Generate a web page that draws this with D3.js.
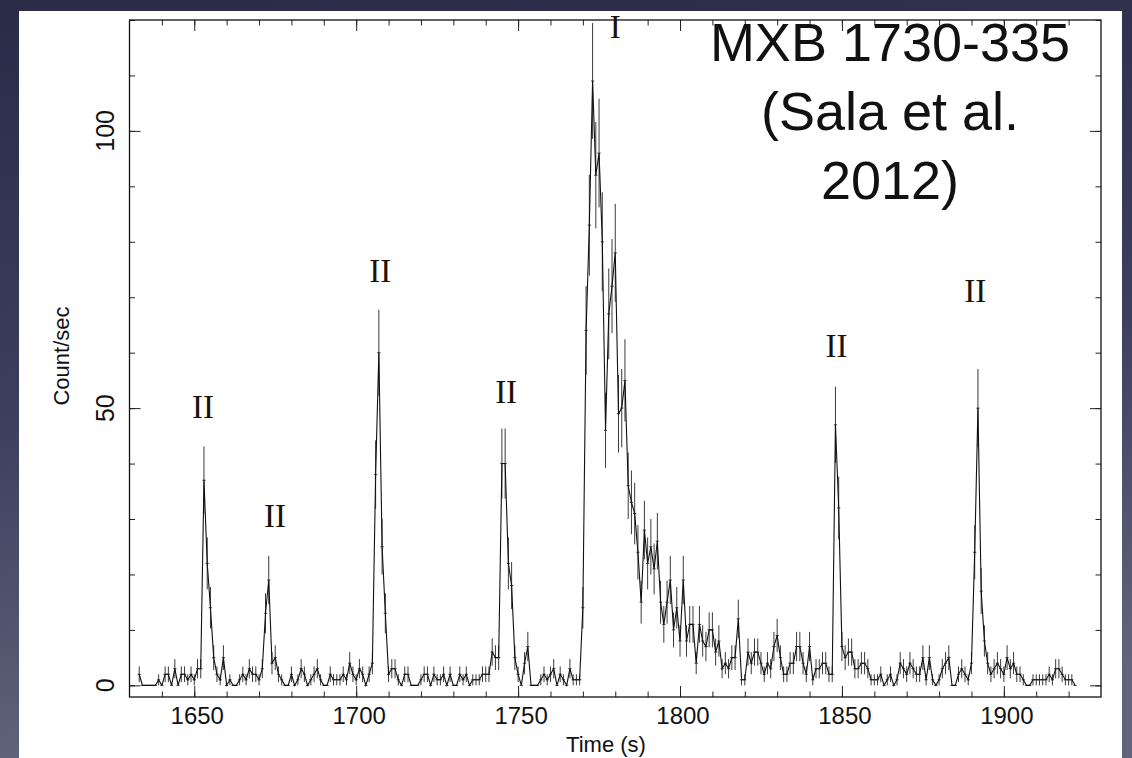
<!DOCTYPE html>
<html>
<head>
<meta charset="utf-8">
<script src="https://cdn.jsdelivr.net/npm/d3@7"></script>
<style>
  html, body { margin: 0; padding: 0; background: #2e3050; }
  svg { display: block; }
</style>
</head>
<body>
<svg id="chart" width="1132" height="758"></svg>
<script>
// ---------------- data ----------------
const binStart = 1633;            // time of first 1-s bin (s)
const counts = [
  2,0,0,0,0,0,1,0,2,2,
  0,3,0,2,2,1,2,1,3,3,
  37,22,14,5,2,1,5,0,1,0,
  0,1,2,1,3,2,2,1,3,13,
  19,4,5,2,1,0,0,2,0,1,
  3,2,0,1,2,3,1,0,0,2,
  1,1,1,2,1,4,2,1,3,2,
  0,2,4,38,60,25,13,2,3,3,
  1,0,2,2,0,0,0,1,2,2,
  0,2,1,1,2,0,2,0,0,2,
  1,2,0,1,1,1,2,2,2,6,
  5,5,40,40,22,18,5,2,0,4,
  7,0,0,0,1,2,1,2,3,0,
  2,1,0,3,1,1,1,14,64,83,
  109,92,96,80,46,67,72,78,49,50,
  55,36,33,31,24,15,28,22,25,21,
  26,15,11,15,19,10,14,8,19,8,
  11,11,4,11,8,7,10,10,6,8,
  3,4,3,5,5,12,1,1,6,4,
  6,6,4,2,4,3,7,9,5,2,
  2,4,4,7,7,4,2,7,1,3,
  3,4,4,2,2,47,32,7,5,6,
  6,3,3,4,4,3,1,1,1,2,
  0,1,2,0,1,4,3,2,4,3,
  2,2,5,1,5,1,0,1,3,4,
  5,0,0,2,3,2,1,4,24,50,
  17,8,4,2,3,4,3,2,5,3,
  4,2,2,1,0,0,1,1,1,1,
  1,2,1,3,3,2,1,1,1,0
];
const xMajorTicks = [1650, 1700, 1750, 1800, 1850, 1900];
const xMinorTicks = d3.range(1640, 1930, 10);
const yMajorTicks = [0, 50, 100];
const yMinorTicks = d3.range(0, 121, 10);
const burstLabels = ["II", "II", "II", "II", "I", "II", "II"];
const burstTimes  = [1652.7, 1674.9, 1707.4, 1746.3, 1780, 1848.3, 1891.2];
const burstLevels = [48.2, 28.6, 72.7, 51.0, 116.7, 59.2, 69.1];
const titleLines = ["MXB 1730-335", "(Sala et al.", "2012)"];
const xTitle = "Time (s)";
const yTitle = "Count/sec";

const data = counts.map((c, i) => ({ t: binStart + i, c: c, e: Math.sqrt(c) }));

// ---------------- drawing ----------------
const svg = d3.select("#chart");
const W = 1132, H = 758;

const defs = svg.append("defs");
const grad = defs.append("linearGradient").attr("id", "bg").attr("x1", 0).attr("y1", 0).attr("x2", 0.15).attr("y2", 1);
grad.append("stop").attr("offset", "0%").attr("stop-color", "#2a2b47");
grad.append("stop").attr("offset", "55%").attr("stop-color", "#3d3f5e");
grad.append("stop").attr("offset", "100%").attr("stop-color", "#62647c");
svg.append("rect").attr("width", W).attr("height", H).attr("fill", "url(#bg)");

// white slide panel
svg.append("rect").attr("x", 19).attr("y", 11).attr("width", 1103).attr("height", 760).attr("fill", "#ffffff");

const L = 129.5, R = 1101, T = 20, B = 697;
const x = d3.scaleLinear().domain([1630, 1930]).range([L, R]);
const y = d3.scaleLinear().domain([-2.1, 120]).range([B, T]);

const plot = svg.append("g");

// error bars
const eb = plot.append("g").attr("stroke", "#3a3a3a").attr("stroke-width", 1);
eb.selectAll("line.v").data(data.filter(d => d.c > 0)).join("line")
  .attr("class", "v")
  .attr("x1", d => x(d.t)).attr("x2", d => x(d.t))
  .attr("y1", d => y(d.c - d.e)).attr("y2", d => y(Math.min(d.c + d.e, 120)));
eb.selectAll("line.h").data(data).join("line")
  .attr("class", "h")
  .attr("x1", d => x(d.t - 0.5)).attr("x2", d => x(d.t + 0.5))
  .attr("y1", d => y(d.c)).attr("y2", d => y(d.c));

// light curve line
const line = d3.line().x(d => x(d.t)).y(d => y(d.c));
plot.append("path").datum(data)
  .attr("fill", "none").attr("stroke", "#111").attr("stroke-width", 1.1)
  .attr("stroke-linejoin", "miter")
  .attr("d", line);

// axes (ticks drawn inward on all four sides)
function styleAxis(g) {
  g.select(".domain").remove();
  g.selectAll(".tick line").attr("stroke", "#222").attr("stroke-width", 1);
  g.selectAll(".tick text").remove();
}
svg.append("g").attr("transform", `translate(0,${B})`)
  .call(d3.axisBottom(x).tickValues(xMinorTicks).tickSize(-5.5)).call(styleAxis);
svg.append("g").attr("transform", `translate(0,${B})`)
  .call(d3.axisBottom(x).tickValues(xMajorTicks).tickSize(-11)).call(styleAxis);
svg.append("g").attr("transform", `translate(0,${T})`)
  .call(d3.axisTop(x).tickValues(xMinorTicks).tickSize(-5.5)).call(styleAxis);
svg.append("g").attr("transform", `translate(0,${T})`)
  .call(d3.axisTop(x).tickValues(xMajorTicks).tickSize(-11)).call(styleAxis);
svg.append("g").attr("transform", `translate(${L},0)`)
  .call(d3.axisLeft(y).tickValues(yMinorTicks).tickSize(-5.5)).call(styleAxis);
svg.append("g").attr("transform", `translate(${L},0)`)
  .call(d3.axisLeft(y).tickValues(yMajorTicks).tickSize(-11)).call(styleAxis);
svg.append("g").attr("transform", `translate(${R},0)`)
  .call(d3.axisRight(y).tickValues(yMinorTicks).tickSize(-5.5)).call(styleAxis);
svg.append("g").attr("transform", `translate(${R},0)`)
  .call(d3.axisRight(y).tickValues(yMajorTicks).tickSize(-11)).call(styleAxis);

// frame
svg.append("rect").attr("x", L).attr("y", T).attr("width", R - L).attr("height", B - T)
  .attr("fill", "none").attr("stroke", "#111").attr("stroke-width", 1.3);

// tick labels
const sans = "'Liberation Sans', Arial, Helvetica, sans-serif";
svg.append("g").selectAll("text").data(xMajorTicks).join("text")
  .attr("x", d => x(d) + 3).attr("y", 724)
  .attr("text-anchor", "middle")
  .attr("font-family", sans).attr("font-size", 24).attr("fill", "#111")
  .text(d => d);
svg.append("g").selectAll("text").data(yMajorTicks).join("text")
  .attr("transform", d => `translate(114,${y(d)}) rotate(-90)`)
  .attr("text-anchor", "middle")
  .attr("font-family", sans).attr("font-size", 25).attr("fill", "#111")
  .text(d => d);

// axis titles
svg.append("text").attr("x", 606).attr("y", 752).attr("text-anchor", "middle")
  .attr("font-family", sans).attr("font-size", 22).attr("fill", "#111").text(xTitle);
svg.append("text").attr("transform", "translate(69,356) rotate(-90)").attr("text-anchor", "middle")
  .attr("font-family", sans).attr("font-size", 22).attr("fill", "#111").text(yTitle);

// burst type labels
svg.append("g").selectAll("text").data(burstLabels).join("text")
  .attr("x", (d, i) => x(burstTimes[i]))
  .attr("y", (d, i) => y(burstLevels[i]))
  .attr("text-anchor", "middle")
  .attr("font-family", "'Liberation Serif', 'Times New Roman', serif")
  .attr("font-size", 33).attr("fill", "#1a1208")
  .text(d => d);

// title annotation
svg.append("g").selectAll("text").data(titleLines).join("text")
  .attr("x", 890).attr("y", (d, i) => 61 + i * 69)
  .attr("text-anchor", "middle")
  .attr("font-family", sans).attr("font-size", 54).attr("fill", "#111")
  .text(d => d);
</script>
</body>
</html>
